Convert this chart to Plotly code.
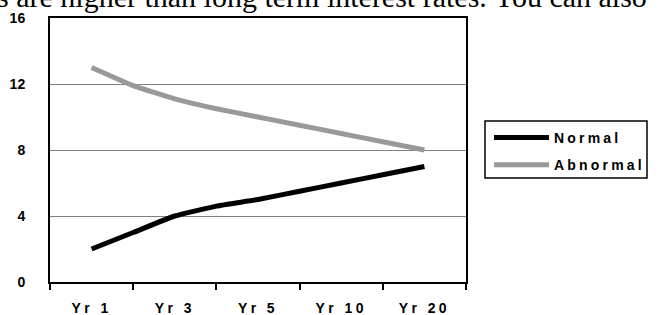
import plotly.graph_objects as go

# ---- data ----
x_labels = ["Yr 1", "Yr 3", "Yr 5", "Yr 10", "Yr 20"]
x_points = [0, 0.5, 1, 1.5, 2, 2.5, 3, 3.5, 4]          # half-category steps
normal = [2.0, 3.0, 4.0, 4.6, 5.0, 5.5, 6.0, 6.5, 7.0]
abnormal = [13.0, 11.9, 11.1, 10.5, 10.0, 9.5, 9.0, 8.5, 8.0]
y_ticks = [0, 4, 8, 12, 16]
caption = "s are higher than long term interest rates. You can also"

W, H = 658, 315
L, R, T, B = 50, 192, 18, 33
PW, PH = W - L - R, H - T - B

def px_x(px):
    return (px - L) / PW

def px_y(py):
    return (H - B - py) / PH

FONT = "Liberation Sans, Arial, sans-serif"

fig = go.Figure()
fig.add_trace(go.Scatter(x=x_points, y=normal, name="Normal", mode="lines",
                         line=dict(color="#000000", width=5, shape="spline", smoothing=0.4),
                         legendgroup="a"))
fig.add_trace(go.Scatter(x=x_points, y=abnormal, name="Abnormal", mode="lines",
                         line=dict(color="#999999", width=5, shape="spline", smoothing=0.4),
                         legendgroup="b"))

fig.update_layout(
    width=W, height=H,
    margin=dict(l=L, r=R, t=T, b=B, autoexpand=False),
    paper_bgcolor="white", plot_bgcolor="white",
    font=dict(family=FONT, size=14, color="black", weight="bold"),
    showlegend=True,
    legend=dict(x=px_x(489), y=px_y(122), xanchor="left", yanchor="top",
                bgcolor="rgba(0,0,0,0)", borderwidth=0,
                font=dict(family=FONT, size=14, color="black", weight="bold"),
                itemwidth=55, tracegroupgap=6, traceorder="grouped"),
    xaxis=dict(range=[-0.5, 4.5], tickmode="array", tickvals=list(range(len(x_labels))),
               ticktext=x_labels, ticks="", showgrid=False, zeroline=False,
               showline=True, linecolor="black", linewidth=2, mirror=True,
               ticklabelstandoff=12, automargin=False,
               minor=dict(tickmode="array", tickvals=[-0.5, 0.5, 1.5, 2.5, 3.5, 4.5],
                          ticks="outside", ticklen=6, tickwidth=1.5, tickcolor="black",
                          showgrid=False),
               tickfont=dict(family=FONT, size=14, color="black", weight="bold")),
    yaxis=dict(range=[0, 16], tickmode="array", tickvals=y_ticks, ticks="",
               showgrid=True, gridcolor="#808080", gridwidth=1, zeroline=False,
               showline=True, linecolor="black", linewidth=2, mirror=True,
               ticklabelstandoff=20, automargin=False,
               tickfont=dict(family=FONT, size=14, color="black", weight="bold")),
    shapes=[dict(type="rect", xref="paper", yref="paper",
                 x0=px_x(485), x1=px_x(647), y0=px_y(178), y1=px_y(121),
                 line=dict(color="black", width=1.5), fillcolor="rgba(0,0,0,0)",
                 layer="below")],
    annotations=[dict(text=caption, xref="paper", yref="paper",
                      x=px_x(-5), y=px_y(15.5), xanchor="left", yanchor="bottom",
                      showarrow=False,
                      font=dict(family="Liberation Serif, Times New Roman, serif",
                                size=30, color="black", weight="normal"))],
)

post = """
var s = document.createElement('style');
s.innerHTML = 'html, body {margin:0; padding:0; overflow:hidden;} .xtick text {letter-spacing: 3.4px;} .legendtext {letter-spacing: 3.2px;}';
document.head.appendChild(s);
document.querySelectorAll('g.legend [clip-path]').forEach(function(e){ e.removeAttribute('clip-path'); });
"""
fig.write_html("out.html", post_script=post, config={"displayModeBar": False})
